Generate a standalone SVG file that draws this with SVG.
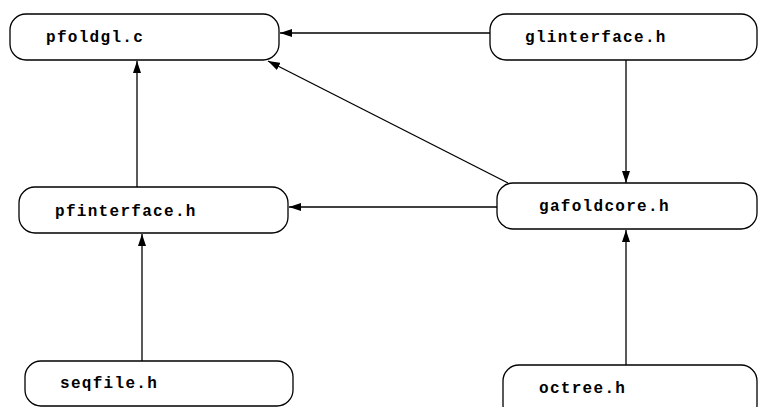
<svg xmlns="http://www.w3.org/2000/svg" width="760" height="407" viewBox="0 0 760 407">
  <defs>
    <marker id="arrow" viewBox="0 0 12 8" refX="12" refY="4" markerWidth="12" markerHeight="8" markerUnits="userSpaceOnUse" orient="auto">
      <path d="M0,0 L12,4 L0,8 Z" fill="#000"/>
    </marker>
    <style>
      .box { fill: #fff; stroke: #000; stroke-width: 1.3; }
      .label { font-family: "Liberation Mono", "Courier New", monospace; font-weight: bold; font-size: 16px; letter-spacing: 1.3px; fill: #000; }
      .edge { stroke: #000; stroke-width: 1.3; fill: none; marker-end: url(#arrow); }
    </style>
  </defs>
  <rect width="760" height="407" fill="#fff"/>

  <g id="edges">
    <line class="edge" x1="490" y1="33" x2="280" y2="33"/>
    <line class="edge" x1="508" y1="183" x2="268" y2="61"/>
    <line class="edge" x1="137" y1="187" x2="137" y2="61"/>
    <line class="edge" x1="626" y1="60" x2="626" y2="183"/>
    <line class="edge" x1="497" y1="207" x2="289" y2="207"/>
    <line class="edge" x1="142" y1="361" x2="142" y2="234"/>
    <line class="edge" x1="626" y1="365" x2="626" y2="230"/>
  </g>

  <g id="pfoldgl">
    <rect class="box" x="10" y="14" width="269" height="46" rx="16" ry="16"/>
    <text class="label" x="46" y="42">pfoldgl.c</text>
  </g>
  <g id="glinterface">
    <rect class="box" x="490" y="14" width="267" height="46" rx="16" ry="16"/>
    <text class="label" x="525" y="42">glinterface.h</text>
  </g>
  <g id="pfinterface">
    <rect class="box" x="19" y="187" width="269" height="46" rx="16" ry="16"/>
    <text class="label" x="55" y="216">pfinterface.h</text>
  </g>
  <g id="gafoldcore">
    <rect class="box" x="497" y="183" width="260" height="46" rx="16" ry="16"/>
    <text class="label" x="539" y="211">gafoldcore.h</text>
  </g>
  <g id="seqfile">
    <rect class="box" x="25" y="361" width="268" height="45" rx="16" ry="16"/>
    <text class="label" x="60" y="388">seqfile.h</text>
  </g>
  <g id="octree">
    <rect class="box" x="503" y="365" width="254" height="56" rx="16" ry="16"/>
    <text class="label" x="539" y="393">octree.h</text>
  </g>
</svg>
